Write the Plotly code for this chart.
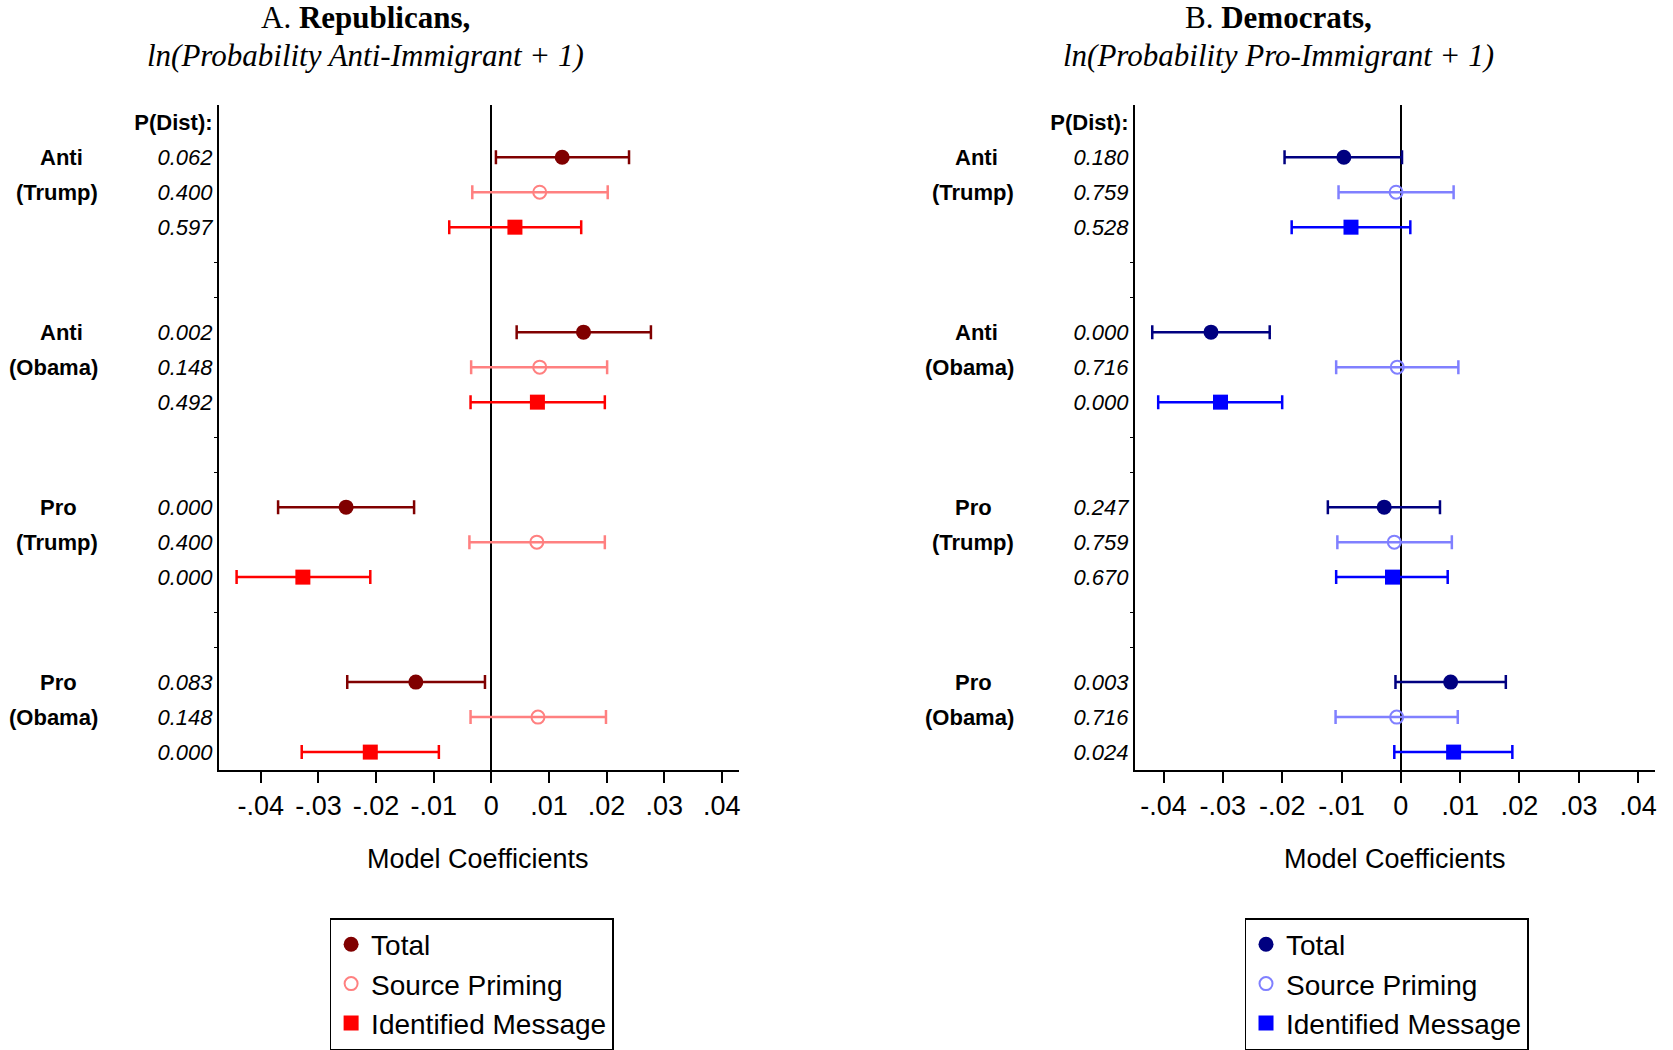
import plotly.graph_objects as go

# ---------------- data ----------------
groups_top = ["Anti", "Anti", "Pro", "Pro"]
groups_bottom = ["(Trump)", "(Obama)", "(Trump)", "(Obama)"]
series_names = ["Total", "Source Priming", "Identified Message"]

# Republicans (panel A)
rep_total = [0.0123, 0.0160, -0.0252, -0.0131]
rep_total_lo = [0.0008, 0.0044, -0.0370, -0.0250]
rep_total_hi = [0.0239, 0.0277, -0.0134, -0.0011]
rep_source = [0.0084, 0.0084, 0.0079, 0.0081]
rep_source_lo = [-0.0033, -0.0035, -0.0038, -0.0036]
rep_source_hi = [0.0202, 0.0201, 0.0197, 0.0199]
rep_ident = [0.0041, 0.0080, -0.0327, -0.0210]
rep_ident_lo = [-0.0073, -0.0036, -0.0442, -0.0329]
rep_ident_hi = [0.0156, 0.0197, -0.0210, -0.0091]
rep_pdist = ["0.062", "0.400", "0.597",
             "0.002", "0.148", "0.492",
             "0.000", "0.400", "0.000",
             "0.083", "0.148", "0.000"]

# Democrats (panel B)
dem_total = [-0.0096, -0.0320, -0.0028, 0.0084]
dem_total_lo = [-0.0196, -0.0419, -0.0123, -0.0009]
dem_total_hi = [0.0002, -0.0221, 0.0066, 0.0177]
dem_source = [-0.0008, -0.0006, -0.0011, -0.0007]
dem_source_lo = [-0.0105, -0.0109, -0.0107, -0.0110]
dem_source_hi = [0.0089, 0.0097, 0.0086, 0.0096]
dem_ident = [-0.0084, -0.0304, -0.0014, 0.0089]
dem_ident_lo = [-0.0184, -0.0409, -0.0109, -0.0011]
dem_ident_hi = [0.0016, -0.0200, 0.0079, 0.0188]
dem_pdist = ["0.180", "0.759", "0.528",
             "0.000", "0.716", "0.000",
             "0.247", "0.759", "0.670",
             "0.003", "0.716", "0.024"]

x_tickvals = [-0.04, -0.03, -0.02, -0.01, 0, 0.01, 0.02, 0.03, 0.04]
x_ticktext = ["-.04", "-.03", "-.02", "-.01", "0", ".01", ".02", ".03", ".04"]

rep_colors = ["#800000", "#FF8080", "#FF0000"]
dem_colors = ["#000080", "#8080FF", "#0000FF"]

# ---------------- layout helpers ----------------
W, H = 1673, 1050
SANS = "Liberation Sans, Arial, Helvetica, sans-serif"
SERIF = "Liberation Serif, Times New Roman, serif"

def px(x):
    return x / W

def py(y):
    return 1 - y / H

group_rows = [0, 5, 10, 15]
row_positions = [g + k for g in group_rows for k in range(3)]
empty_rows = [3, 4, 8, 9, 13, 14]

fig = go.Figure()

panels = [
    dict(xa="x", ya="y", legend="legend",
         data=[(rep_total, rep_total_lo, rep_total_hi),
               (rep_source, rep_source_lo, rep_source_hi),
               (rep_ident, rep_ident_lo, rep_ident_hi)],
         colors=rep_colors),
    dict(xa="x2", ya="y2", legend="legend2",
         data=[(dem_total, dem_total_lo, dem_total_hi),
               (dem_source, dem_source_lo, dem_source_hi),
               (dem_ident, dem_ident_lo, dem_ident_hi)],
         colors=dem_colors),
]

symbols = ["circle", "circle-open", "square"]
sizes = [15, 13, 15]

for p in panels:
    for k, (name, (coef, lo, hi)) in enumerate(zip(series_names, p["data"])):
        col = p["colors"][k]
        rows = [g + k for g in group_rows]
        marker = dict(symbol=symbols[k], size=sizes[k], color=col)
        if k == 1:
            marker["line"] = dict(color=col, width=2)
        fig.add_trace(go.Scatter(
            x=coef, y=rows, mode="markers", name=name,
            xaxis=p["xa"], yaxis=p["ya"], legend=p["legend"],
            marker=marker,
            error_x=dict(type="data", symmetric=False,
                         array=[h - c for h, c in zip(hi, coef)],
                         arrayminus=[c - l for c, l in zip(coef, lo)],
                         color=col, thickness=2.5, width=7),
            cliponaxis=False,
        ))

xaxis_common = dict(
    tickvals=x_tickvals, ticktext=x_ticktext,
    ticks="outside", ticklen=11, tickwidth=1.5, tickcolor="black",
    showline=True, linecolor="black", linewidth=1.5,
    zeroline=True, zerolinecolor="black", zerolinewidth=2,
    showgrid=False,
    tickfont=dict(family=SANS, size=27, color="black"),
)

yaxis_common = dict(
    range=[17.52, -1.5], autorange=False,
    domain=[py(772.5), py(105)],
    showline=True, linecolor="black", linewidth=1.5,
    zeroline=False, showgrid=False,
    ticks="", tickmode="array",
    tickvals=[-1] + row_positions,
    tickfont=dict(family=SANS, size=22, color="black"),
    minor=dict(tickmode="array", tickvals=empty_rows, ticks="outside",
               ticklen=3, tickcolor="black", tickwidth=1, showgrid=False),
)

legend_common = dict(
    xanchor="left", yanchor="top",
    bordercolor="black", borderwidth=1.5, bgcolor="white",
    font=dict(family=SANS, size=28, color="black"),
    tracegroupgap=0, entrywidth=262, entrywidthmode="pixels",
)

fig.update_layout(
    width=W, height=H,
    margin=dict(l=0, r=0, t=0, b=0),
    paper_bgcolor="white", plot_bgcolor="white",
    showlegend=True,
    xaxis=dict(xaxis_common, domain=[px(219), px(739.4)],
               range=[-0.0473, 0.0429], anchor="y"),
    yaxis=dict(yaxis_common, anchor="x",
               ticktext=["<b>P(Dist):</b>"] + ["<i>%s</i>" % v for v in rep_pdist]),
    xaxis2=dict(xaxis_common, domain=[px(1136), px(1657.3)],
                range=[-0.04487, 0.0429], anchor="y2"),
    yaxis2=dict(yaxis_common, anchor="x2",
                ticktext=["<b>P(Dist):</b>"] + ["<i>%s</i>" % v for v in dem_pdist]),
    legend=dict(legend_common, x=px(330), y=py(921)),
    legend2=dict(legend_common, x=px(1246), y=py(921)),
)

annotations = []
# titles
titles = [
    (366, "A. <b>Republicans,</b>", "<i>ln(Probability Anti-Immigrant + 1)</i>"),
    (1280, "B. <b>Democrats,</b>", "<i>ln(Probability Pro-Immigrant + 1)</i>"),
]
for cx, l1, l2 in titles:
    annotations.append(dict(x=px(cx), y=py(18), xref="paper", yref="paper",
                            text=l1, showarrow=False, xanchor="center", yanchor="middle",
                            font=dict(family=SERIF, size=31, color="black")))
    annotations.append(dict(x=px(cx), y=py(56), xref="paper", yref="paper",
                            text=l2, showarrow=False, xanchor="center", yanchor="middle",
                            font=dict(family=SERIF, size=31, color="black")))

# axis titles
for cx in [479, 1396.5]:
    annotations.append(dict(x=px(cx), y=py(861), xref="paper", yref="paper",
                            text="Model Coefficients", showarrow=False,
                            xanchor="center", yanchor="middle",
                            font=dict(family=SANS, size=27, color="black")))

# group labels
for yref, left_x, right_x in [("y", 38, 100.3), ("y2", 954.5, 1016.8)]:
    for g, top, bottom in zip(group_rows, groups_top, groups_bottom):
        annotations.append(dict(x=px(left_x), y=g, xref="paper", yref=yref,
                                text="<b>%s</b>" % top, showarrow=False,
                                xanchor="left", yanchor="middle",
                                font=dict(family=SANS, size=22, color="black")))
        annotations.append(dict(x=px(right_x), y=g + 1, xref="paper", yref=yref,
                                text="<b>%s</b>" % bottom, showarrow=False,
                                xanchor="right", yanchor="middle",
                                font=dict(family=SANS, size=22, color="black")))

fig.update_layout(annotations=annotations)

fig.write_html(
    "out.html",
    config={"displayModeBar": False},
    post_script="document.body.style.margin='0';document.body.style.overflow='hidden';",
)
